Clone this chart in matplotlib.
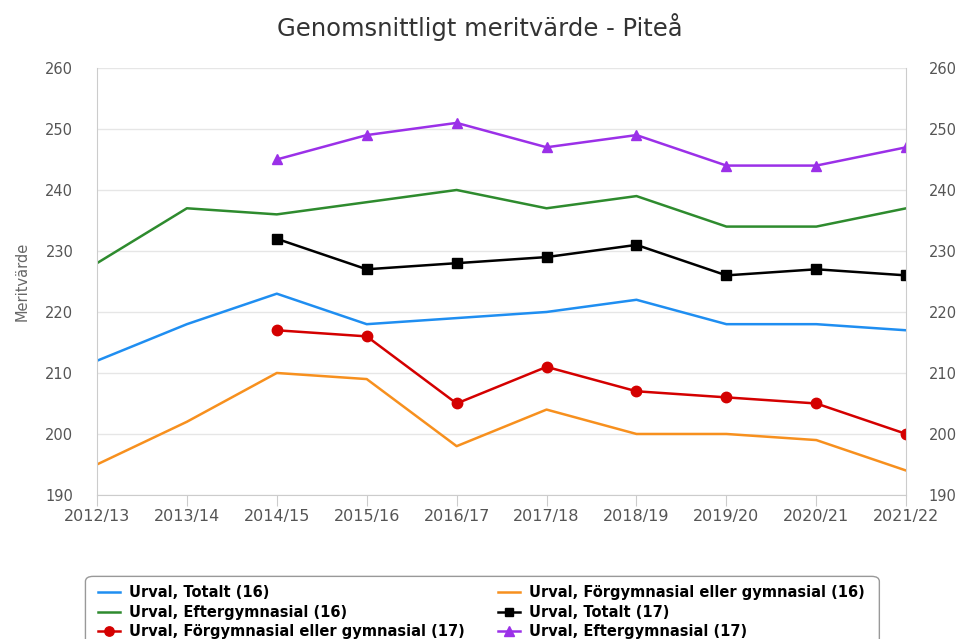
import matplotlib
matplotlib.use("Agg")
import matplotlib.pyplot as plt
from matplotlib.patches import FancyBboxPatch

years = ["2012/13", "2013/14", "2014/15", "2015/16", "2016/17", "2017/18",
         "2018/19", "2019/20", "2020/21", "2021/22"]
totalt16 = [212, 218, 223, 218, 219, 220, 222, 218, 218, 217]
forgym16 = [195, 202, 210, 209, 198, 204, 200, 200, 199, 194]
efter16 = [228, 237, 236, 238, 240, 237, 239, 234, 234, 237]
years17 = years[2:]
totalt17 = [232, 227, 228, 229, 231, 226, 227, 226]
forgym17 = [217, 216, 205, 211, 207, 206, 205, 200]
efter17 = [245, 249, 251, 247, 249, 244, 244, 247]
yticks = [190, 200, 210, 220, 230, 240, 250, 260]

plt.rcParams['font.family'] = ['DejaVu Sans']
fig = plt.figure(figsize=(9.6, 6.39), dpi=100)
ax = fig.add_axes([0.101, 0.2254, 0.843, 0.6682])

x = list(range(len(years)))
x17 = x[2:]
h1, = ax.plot(x, totalt16, color="#1f8ef1", lw=1.8, label="Urval, Totalt (16)")
h2, = ax.plot(x, forgym16, color="#f7901e", lw=1.8, label="Urval, Förgymnasial eller gymnasial (16)")
h3, = ax.plot(x, efter16, color="#2e8b2e", lw=1.8, label="Urval, Eftergymnasial (16)")
h4, = ax.plot(x17, totalt17, color="black", lw=1.8, marker="s", ms=7, label="Urval, Totalt (17)")
h5, = ax.plot(x17, forgym17, color="#d40000", lw=1.8, marker="o", ms=7.5, label="Urval, Förgymnasial eller gymnasial (17)")
h6, = ax.plot(x17, efter17, color="#9b30e8", lw=1.8, marker="^", ms=7.5, label="Urval, Eftergymnasial (17)")

ax.set_xlim(0, len(years) - 1)
ax.set_ylim(190, 260)
ax.set_yticks(yticks)
ax.set_xticks(x)
ax.set_xticklabels(years)
ax.grid(axis="y", color="#e6e6e6", lw=1)
ax.set_axisbelow(True)
ax.spines["top"].set_visible(False)
for s in ["left", "right", "bottom"]:
    ax.spines[s].set_color("#cccccc")
ax.tick_params(axis="y", length=0, labelsize=10.5, labelcolor="#555555", pad=17)
ax.tick_params(axis="x", length=8, color="#cccccc", labelsize=11.5, labelcolor="#555555", pad=2)
ax.set_ylabel("Meritvärde", fontsize=10.5, color="#666666", labelpad=11)

ax2 = ax.twinx()
ax2.set_ylim(190, 260)
ax2.set_yticks(yticks)
ax2.tick_params(axis="y", length=0, labelsize=10.5, labelcolor="#555555", pad=16)
for s in ax2.spines.values():
    s.set_visible(False)

fig.text(0.5, 0.958, "Genomsnittligt meritvärde - Piteå", ha="center", va="center",
         fontsize=17.5, color="#333333")

box = FancyBboxPatch((0.089, -0.05), 0.827, 0.148, boxstyle="round,pad=0,rounding_size=0.008",
                     transform=fig.transFigure, facecolor="white", edgecolor="#999999", lw=1)
fig.patches.append(box)

legkw = dict(loc="upper left", frameon=False, ncol=1,
             prop={"weight": "bold", "size": 10.5},
             labelspacing=0.3, handlelength=1.5, handletextpad=0.6,
             borderaxespad=0, borderpad=0, markerscale=0.9)
leg1 = fig.legend(handles=[h1, h3, h5], bbox_to_anchor=(0.102, 0.084), **legkw)
leg2 = fig.legend(handles=[h2, h4, h6], bbox_to_anchor=(0.519, 0.084), **legkw)

fig.savefig("out.png", dpi=100)
